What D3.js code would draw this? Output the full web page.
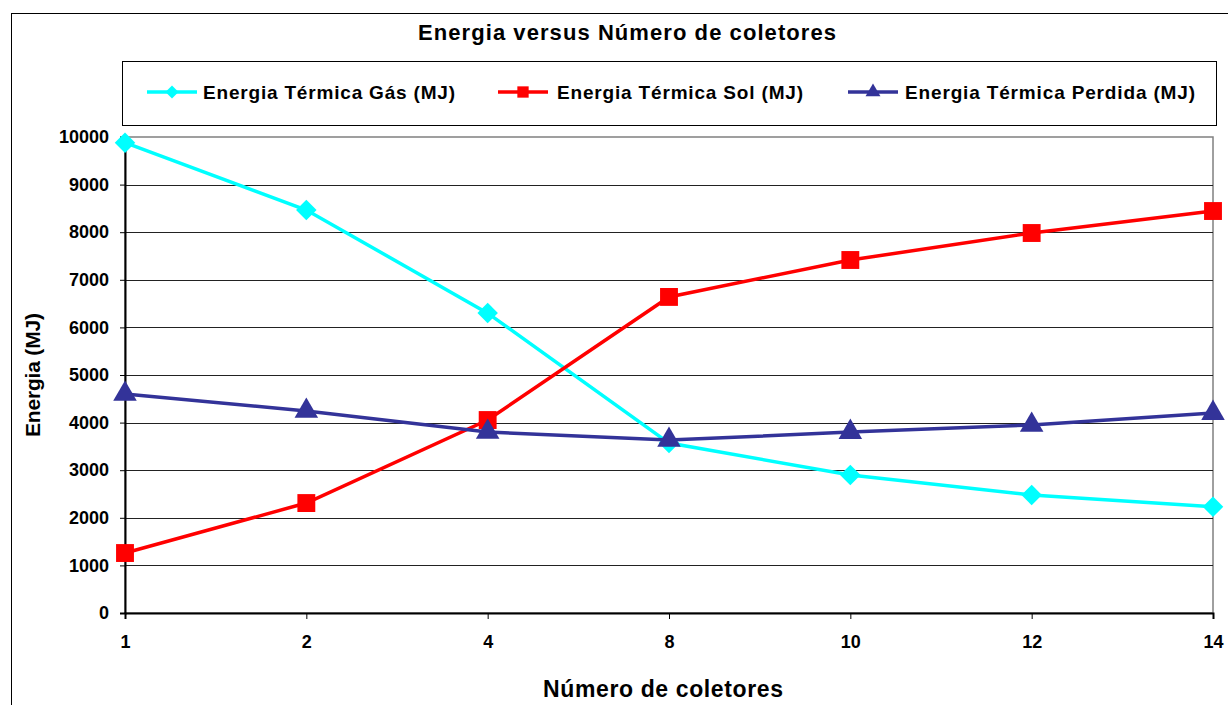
<!DOCTYPE html>
<html><head><meta charset="utf-8">
<script src="https://cdn.jsdelivr.net/npm/d3@7"></script>
<style>body{margin:0;background:#fff}svg{display:block;font-family:"Liberation Sans",Arial,sans-serif}</style>
</head><body><svg id="c" width="1228" height="705"></svg>
<script>
const categories = ["1","2","4","8","10","12","14"];
const gas = [9880, 8466, 6300, 3570, 2900, 2480, 2230];
const sol = [1260, 2310, 4054, 6640, 7416, 7983, 8445];
const perdida = [4600, 4244, 3803, 3634, 3800, 3950, 4200];
const yTicks = [0,1000,2000,3000,4000,5000,6000,7000,8000,9000,10000];
const seriesNames = ["Energia Térmica Gás (MJ)","Energia Térmica Sol (MJ)","Energia Térmica Perdida (MJ)"];

const svg = d3.select("#c");
const L = 125, R = 1213, T = 137, B = 613;
const x = d3.scalePoint().domain(categories).range([L, R]);
const y = d3.scaleLinear().domain([0, 10000]).range([B, T]);

// outer border
svg.append("rect").attr("x", 11.5).attr("y", 13.5).attr("width", 1240).attr("height", 720)
  .attr("fill", "#fff").attr("stroke", "#000").attr("stroke-width", 1);

// title
svg.append("text").attr("x", 627).attr("y", 40).attr("text-anchor", "middle")
  .attr("font-size", 22).attr("font-weight", "bold").attr("textLength", 418).attr("lengthAdjust", "spacing")
  .text("Energia versus Número de coletores");

// plot area border
svg.append("rect").attr("x", L).attr("y", T).attr("width", R - L).attr("height", B - T)
  .attr("fill", "#fff").attr("stroke", "#808080").attr("stroke-width", 1.5);

// gridlines
svg.append("g").selectAll("line").data(yTicks.filter(d => d > 0 && d < 10000)).join("line")
  .attr("x1", L).attr("x2", R).attr("y1", d => Math.round(y(d)) + 0.5).attr("y2", d => Math.round(y(d)) + 0.5)
  .attr("stroke", "#222").attr("stroke-width", 1);

// y axis
const yAxis = svg.append("g").attr("transform", `translate(${L},0)`)
  .call(d3.axisLeft(y).tickValues(yTicks).tickSize(5).tickPadding(11).tickFormat(d3.format("d")));
yAxis.select(".domain").attr("stroke", "#000").attr("stroke-width", 2);
yAxis.selectAll("text").attr("font-size", 18).attr("font-weight", "bold").attr("fill", "#000")
  .attr("font-family", "Liberation Sans, Arial, sans-serif");

// x axis
const xAxis = svg.append("g").attr("transform", `translate(0,${B})`)
  .call(d3.axisBottom(x).tickSize(6).tickPadding(16));
xAxis.select(".domain").attr("stroke", "#000").attr("stroke-width", 2);
xAxis.selectAll("text").attr("font-size", 18).attr("font-weight", "bold").attr("fill", "#000")
  .attr("font-family", "Liberation Sans, Arial, sans-serif");

// axis titles
svg.append("text").attr("x", 663).attr("y", 697).attr("text-anchor", "middle")
  .attr("font-size", 23).attr("font-weight", "bold").attr("textLength", 240).attr("lengthAdjust", "spacing")
  .text("Número de coletores");
svg.append("text").attr("transform", "translate(40,375) rotate(-90)").attr("text-anchor", "middle")
  .attr("font-size", 21).attr("font-weight", "bold").attr("textLength", 124).attr("lengthAdjust", "spacing")
  .text("Energia (MJ)");

const line = d3.line().x((d, i) => x(categories[i])).y(d => y(d));
const colors = ["#00FFFF", "#FF0000", "#333399"];
const data = [gas, sol, perdida];
const sym = [d3.symbolSquare, d3.symbolSquare, d3.symbolTriangle];
const rot = [45, 0, 0];
const symSize = [210, 320, 240];

data.forEach((vals, k) => {
  svg.append("path").attr("d", line(vals)).attr("fill", "none").attr("stroke", colors[k]).attr("stroke-width", 3.5);
});
data.forEach((vals, k) => {
  svg.append("g").selectAll("path").data(vals).join("path")
    .attr("transform", (d, i) => `translate(${x(categories[i])},${y(d)}) rotate(${rot[k]})`)
    .attr("d", d3.symbol().type(sym[k]).size(symSize[k])).attr("fill", colors[k]);
});

// legend
svg.append("rect").attr("x", 122.5).attr("y", 61.5).attr("width", 1094).attr("height", 64)
  .attr("fill", "#fff").attr("stroke", "#000").attr("stroke-width", 1);
const legX = [147, 498, 848];
const legTextX = [203, 557, 905];
const legTextW = [252, 246, 290];
seriesNames.forEach((n, k) => {
  const cy = 92;
  svg.append("line").attr("x1", legX[k]).attr("x2", legX[k] + 50).attr("y1", cy).attr("y2", cy)
    .attr("stroke", colors[k]).attr("stroke-width", 3.5);
  svg.append("path").attr("transform", `translate(${legX[k] + 25},${cy}) rotate(${rot[k]})`)
    .attr("d", d3.symbol().type(sym[k]).size(symSize[k] * 0.4)).attr("fill", colors[k]);
  svg.append("text").attr("x", legTextX[k]).attr("y", cy + 7).attr("font-size", 19).attr("font-weight", "bold")
    .attr("textLength", legTextW[k]).attr("lengthAdjust", "spacing").text(n);
});
</script></body></html>
